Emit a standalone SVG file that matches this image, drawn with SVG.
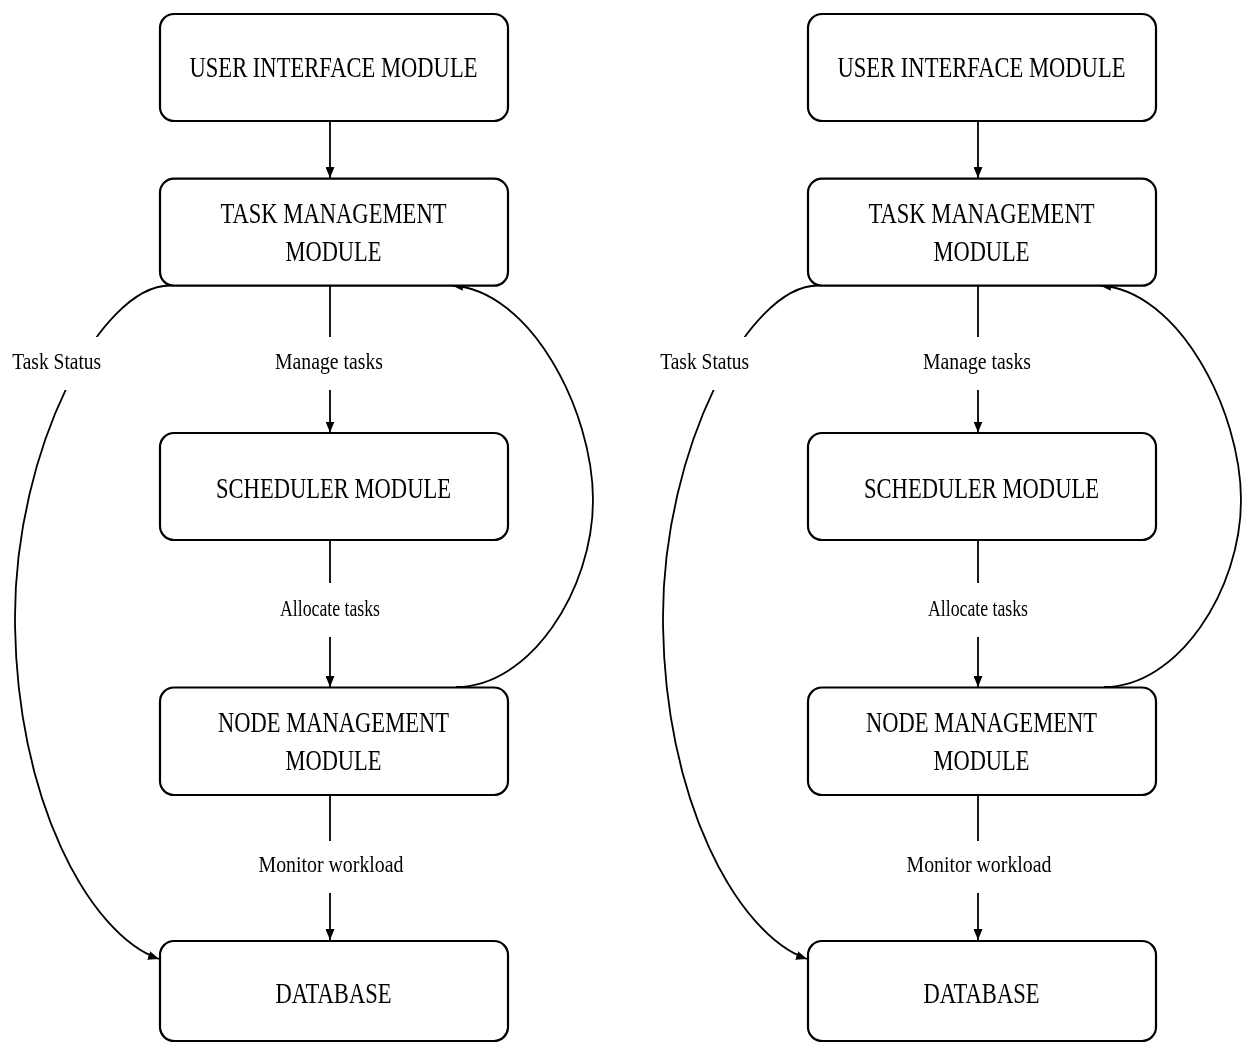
<svg xmlns="http://www.w3.org/2000/svg" width="1242" height="1044" viewBox="0 0 1242 1044">
<style>
.box{fill:#fff;stroke:#000;stroke-width:2.2}
.t{font-family:"Liberation Serif","Times New Roman",serif;font-size:30px;fill:#000;text-anchor:middle}
.l{font-family:"Liberation Serif","Times New Roman",serif;font-size:24px;fill:#000;text-anchor:middle}
.c{fill:none;stroke:#000;stroke-width:1.8}
</style>
<defs>
<marker id="ah" viewBox="0 0 11 9" refX="11" refY="4.5" markerWidth="11" markerHeight="9" markerUnits="userSpaceOnUse" orient="auto">
<path d="M0,0 L11,4.5 L0,9 z" fill="#000"/>
</marker>
<mask id="gaps" maskUnits="userSpaceOnUse" x="0" y="0" width="1242" height="1044">
<rect x="0" y="0" width="1242" height="1044" fill="#fff"/>
<rect x="0" y="337" width="112" height="53" fill="#000"/>
<rect x="268" y="337" width="124" height="53" fill="#000"/>
<rect x="268" y="583" width="124" height="54" fill="#000"/>
<rect x="250" y="841" width="162" height="52" fill="#000"/>
<rect x="648" y="337" width="112" height="53" fill="#000"/>
<rect x="916" y="337" width="124" height="53" fill="#000"/>
<rect x="916" y="583" width="124" height="54" fill="#000"/>
<rect x="898" y="841" width="162" height="52" fill="#000"/>
</mask>
</defs>
<rect x="0" y="0" width="1242" height="1044" fill="#fff"/>

<g id="connectors" mask="url(#gaps)">
<g id="connectors-left">
<path class="c" d="M330,121 L330,178" marker-end="url(#ah)"/>
<path class="c" d="M330,286 L330,432.5" marker-end="url(#ah)"/>
<path class="c" d="M330,540 L330,687" marker-end="url(#ah)"/>
<path class="c" d="M330,795 L330,940" marker-end="url(#ah)"/>
<path class="c" d="M170,285.5 C100,285.5 15,450 15,617 C15,800 90,935 159,959" marker-end="url(#ah)"/>
<path class="c" d="M456,687 C530,687 593,590 593,500 C593,410 530,290 452,285.5" marker-end="url(#ah)"/>
</g>
<g id="connectors-right" transform="translate(648,0)">
<path class="c" d="M330,121 L330,178" marker-end="url(#ah)"/>
<path class="c" d="M330,286 L330,432.5" marker-end="url(#ah)"/>
<path class="c" d="M330,540 L330,687" marker-end="url(#ah)"/>
<path class="c" d="M330,795 L330,940" marker-end="url(#ah)"/>
<path class="c" d="M170,285.5 C100,285.5 15,450 15,617 C15,800 90,935 159,959" marker-end="url(#ah)"/>
<path class="c" d="M456,687 C530,687 593,590 593,500 C593,410 530,290 452,285.5" marker-end="url(#ah)"/>
</g>
</g>

<g id="labels-left">
<text class="l" x="56.7" y="369" textLength="89" lengthAdjust="spacingAndGlyphs">Task Status</text>
<text class="l" x="329" y="369" textLength="108" lengthAdjust="spacingAndGlyphs">Manage tasks</text>
<text class="l" x="330" y="616" textLength="100" lengthAdjust="spacingAndGlyphs">Allocate tasks</text>
<text class="l" x="331" y="872" textLength="145" lengthAdjust="spacingAndGlyphs">Monitor workload</text>
</g>
<g id="labels-right" transform="translate(648,0)">
<text class="l" x="56.7" y="369" textLength="89" lengthAdjust="spacingAndGlyphs">Task Status</text>
<text class="l" x="329" y="369" textLength="108" lengthAdjust="spacingAndGlyphs">Manage tasks</text>
<text class="l" x="330" y="616" textLength="100" lengthAdjust="spacingAndGlyphs">Allocate tasks</text>
<text class="l" x="331" y="872" textLength="145" lengthAdjust="spacingAndGlyphs">Monitor workload</text>
</g>

<g id="ui-left">
<rect class="box" x="160" y="14" width="348" height="107" rx="14"/>
<text class="t" x="333.5" y="77" textLength="288" lengthAdjust="spacingAndGlyphs">USER INTERFACE MODULE</text>
</g>
<g id="task-left">
<rect class="box" x="160" y="178.7" width="348" height="107" rx="14"/>
<text class="t" x="333.5" y="223" textLength="226" lengthAdjust="spacingAndGlyphs">TASK MANAGEMENT</text>
<text class="t" x="333.5" y="261" textLength="96" lengthAdjust="spacingAndGlyphs">MODULE</text>
</g>
<g id="scheduler-left">
<rect class="box" x="160" y="433" width="348" height="107" rx="14"/>
<text class="t" x="333.5" y="498" textLength="235" lengthAdjust="spacingAndGlyphs">SCHEDULER MODULE</text>
</g>
<g id="node-left">
<rect class="box" x="160" y="687.5" width="348" height="107.5" rx="14"/>
<text class="t" x="333.5" y="732" textLength="231" lengthAdjust="spacingAndGlyphs">NODE MANAGEMENT</text>
<text class="t" x="333.5" y="770" textLength="96" lengthAdjust="spacingAndGlyphs">MODULE</text>
</g>
<g id="database-left">
<rect class="box" x="160" y="941" width="348" height="100" rx="14"/>
<text class="t" x="333.5" y="1003" textLength="116" lengthAdjust="spacingAndGlyphs">DATABASE</text>
</g>

<g id="ui-right" transform="translate(648,0)">
<rect class="box" x="160" y="14" width="348" height="107" rx="14"/>
<text class="t" x="333.5" y="77" textLength="288" lengthAdjust="spacingAndGlyphs">USER INTERFACE MODULE</text>
</g>
<g id="task-right" transform="translate(648,0)">
<rect class="box" x="160" y="178.7" width="348" height="107" rx="14"/>
<text class="t" x="333.5" y="223" textLength="226" lengthAdjust="spacingAndGlyphs">TASK MANAGEMENT</text>
<text class="t" x="333.5" y="261" textLength="96" lengthAdjust="spacingAndGlyphs">MODULE</text>
</g>
<g id="scheduler-right" transform="translate(648,0)">
<rect class="box" x="160" y="433" width="348" height="107" rx="14"/>
<text class="t" x="333.5" y="498" textLength="235" lengthAdjust="spacingAndGlyphs">SCHEDULER MODULE</text>
</g>
<g id="node-right" transform="translate(648,0)">
<rect class="box" x="160" y="687.5" width="348" height="107.5" rx="14"/>
<text class="t" x="333.5" y="732" textLength="231" lengthAdjust="spacingAndGlyphs">NODE MANAGEMENT</text>
<text class="t" x="333.5" y="770" textLength="96" lengthAdjust="spacingAndGlyphs">MODULE</text>
</g>
<g id="database-right" transform="translate(648,0)">
<rect class="box" x="160" y="941" width="348" height="100" rx="14"/>
<text class="t" x="333.5" y="1003" textLength="116" lengthAdjust="spacingAndGlyphs">DATABASE</text>
</g>
</svg>
